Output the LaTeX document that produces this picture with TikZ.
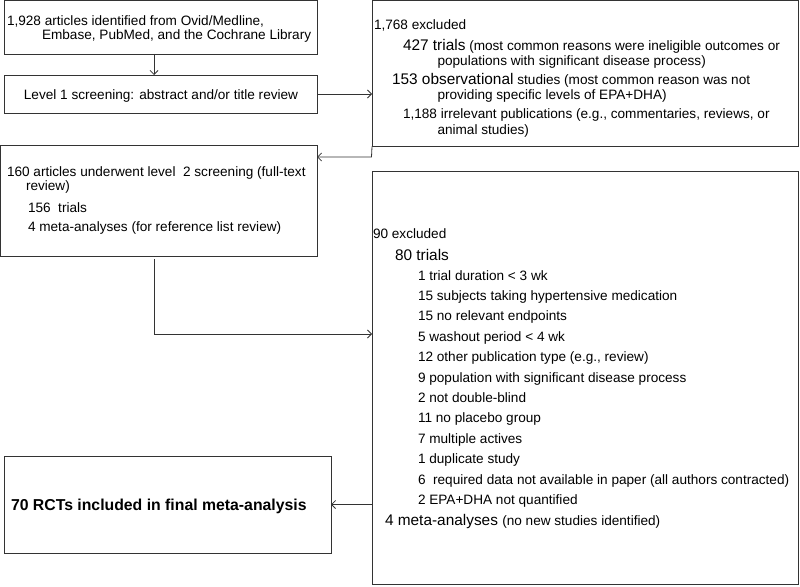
\documentclass[tikz,border=0pt]{standalone}
\usepackage{fontspec}
\setmainfont{Liberation Sans}
\usetikzlibrary{arrows.meta}
\newcommand\fsm{\fontsize{13.6pt}{16pt}\selectfont}
\newcommand\flg{\fontsize{15.4pt}{18pt}\selectfont}
\begin{document}
\begin{tikzpicture}[x=1pt,y=-1pt,
  box/.style={draw=black!80, line width=0.8pt, rectangle, inner sep=0pt, outer sep=0pt, anchor=north west},
  txt/.style={anchor=base west, inner sep=0pt, outer sep=0pt, font=\fsm},
  arr/.style={draw=black!80, line width=0.8pt, -{Straight Barb[length=4pt,width=8pt]}}]
\useasboundingbox (0,0) rectangle (800,586);
% boxes
\node[box, minimum width=313pt, minimum height=53.5pt] (A) at (4,0.5) {};
\node[box, minimum width=313pt, minimum height=38pt] (B) at (4,75) {};
\node[box, minimum width=426pt, minimum height=146pt] (C) at (372,0.5) {};
\node[box, minimum width=316.5pt, minimum height=111pt] (D) at (0.5,145) {};
\node[box, minimum width=426pt, minimum height=413pt] (E) at (372,171) {};
\node[box, minimum width=327pt, minimum height=97pt] (F) at (4,456) {};
% texts
\node[txt] (a1) at (7,26) {1,928 articles identified from Ovid/Medline,};
\node[txt] (a2) at (42,39.5) {Embase, PubMed, and the Cochrane Library};
\node[font=\fsm, anchor=base, inner sep=0pt] (b1) at (161,99) {Level 1 screening: abstract and/or title review};
\node[txt] (c1) at (374,29.5) {1,768 excluded};
\node[txt] (c2) at (403,50.5) {{\flg 427 trials} (most common reasons were ineligible outcomes or};
\node[txt] (c3) at (437.5,66) {populations with significant disease process)};
\node[txt] (c4) at (392,84.5) {{\flg 153 observational} studies (most common reason was not};
\node[txt] (c5) at (437.5,99.5) {providing specific levels of EPA+DHA)};
\node[txt] (c6) at (403,118) {1,188 irrelevant publications (e.g., commentaries, reviews, or};
\node[txt] (c7) at (437.5,134) {animal studies)};
\node[txt] (d1) at (7,176.5) {160 articles underwent level~ 2 screening (full-text};
\node[txt] (d2) at (26,190.5) {review)};
\node[txt] (d3) at (28,212) {156~ trials};
\node[txt] (d4) at (28,231.5) {4 meta-analyses (for reference list review)};
\node[txt] (e0) at (373,238.5) {90 excluded};
\node[txt, font=\flg] (e1) at (395,260.5) {80 trials};
\foreach \t [count=\i] in {1 trial duration < 3 wk,
  15 subjects taking hypertensive medication,
  15 no relevant endpoints,
  5 washout period < 4 wk,
  12 other publication type (e.g.{,} review),
  9 population with significant disease process,
  2 not double-blind,
  11 no placebo group,
  7 multiple actives,
  1 duplicate study,
  6~ required data not available in paper (all authors contracted),
  2 EPA+DHA not quantified}
  \node[txt] (l\i) at (418,259.6+20.4*\i) {\t};
\node[txt, font=\flg] (e2) at (385,525) {4 meta-analyses {\fsm (no new studies identified)}};
\node[txt, font={\fontsize{15.8pt}{18pt}\selectfont\bfseries}] (f1) at (11,510) {70 RCTs included in final meta-analysis};
% connectors
\coordinate (k1) at (371.5,157);
\coordinate (k2) at (154,334);
\draw[arr] ([xshift=-6.5pt]A.south) -- ([xshift=-6.5pt]B.north);
\draw[arr] (B.east) -- (B.east -| C.west);
\draw[arr] (C.south west) -- (k1) -- (k1 -| D.east);
\draw[arr] ([yshift=-3pt]D.south -| k2) -- (k2) -- (k2 -| E.west);
\draw[arr] (F.east -| E.west) -- (F.east);
\end{tikzpicture}
\end{document}
